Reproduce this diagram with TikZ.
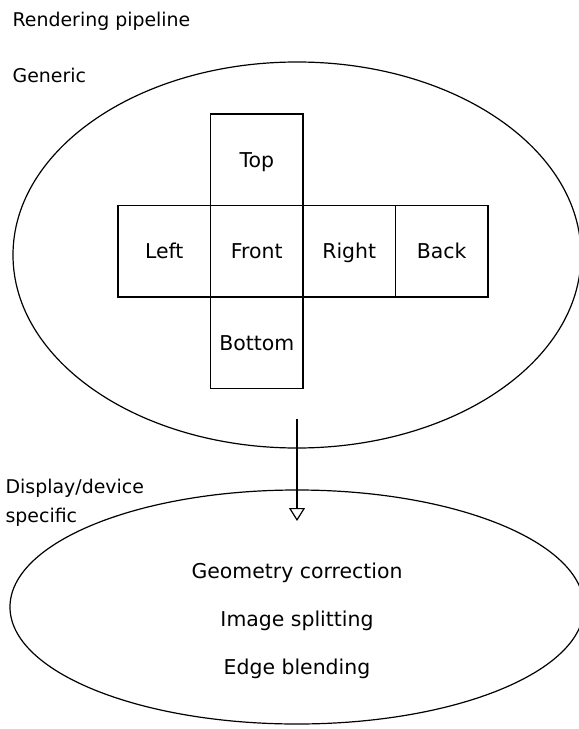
\documentclass[tikz,border=0pt]{standalone}
\usepackage{fontspec}
\setmainfont{DejaVu Sans}
\usetikzlibrary{shapes.geometric,arrows.meta}
\begin{document}
\begin{tikzpicture}[x=1bp,y=-1bp, line width=1.2bp,
  blob/.style={ellipse, draw, inner sep=0pt, outer sep=0pt},
  face/.style={draw, rectangle, minimum width=92.5bp, minimum height=91.5bp,
    inner sep=0pt, outer sep=0pt, font=\fontsize{20.5}{24}\selectfont,
    text height=15bp, text depth=0pt},
  lbl/.style={font=\fontsize{19}{29}\selectfont, inner sep=0pt, align=left, anchor=base west},
  steptext/.style={font=\fontsize{20.5}{48}\selectfont, inner sep=0pt, align=center, anchor=base},
  flow/.style={-{Triangle[open,width=16bp,length=13bp]}}
  ]
\useasboundingbox (0,0) rectangle (579,729);
\clip (0,0) rectangle (579,729);
\fill[white] (0,0) rectangle (579,729);

% ellipses
\node[blob, minimum width=568bp, minimum height=386bp] (generic) at (297,255) {};
\node[blob, minimum width=574bp, minimum height=234bp] (device) at (297,607) {};

% cube faces
\node[face] (top)    at (256.75,159.75) {Top};
\node[face] (left)   at (164.25,251.25) {Left};
\node[face] (front)  at (256.75,251.25) {Front};
\node[face] (right)  at (349.25,251.25) {Right};
\node[face] (back)   at (441.75,251.25) {Back};
\node[face] (bottom) at (256.75,342.75) {Bottom};

% labels (base anchor of a multi-line node is its last line)
\node[lbl] (title)  at (12,27) {Rendering pipeline};
\node[lbl] (genlbl) at (12,83) {Generic};
\node[lbl] (devlbl) at (5,522) {Display/device\\specific};

\node[steptext] (steps) at (297,674) {Geometry correction\\Image splitting\\Edge blending};

% arrow
\coordinate (astart) at (297,419);
\coordinate (aend) at (297,521);
\draw[flow] (astart) -- (aend);
\end{tikzpicture}
\end{document}
